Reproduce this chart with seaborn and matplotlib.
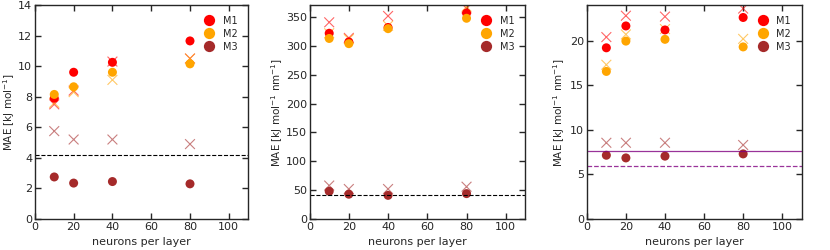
import matplotlib
matplotlib.use('Agg')
import matplotlib.pyplot as plt
import pandas as pd
import seaborn as sns

neurons = [10, 20, 40, 80]
models = ['M1', 'M2', 'M3']

# panel 1: energies
p1_test = {'M1': [7.9, 9.6, 10.25, 11.65],
           'M2': [8.15, 8.65, 9.6, 10.15],
           'M3': [2.75, 2.35, 2.45, 2.3]}
p1_cross = {'M1': [7.5, 8.4, 10.3, 10.5],
            'M2': [7.6, 8.3, 9.1, 10.5],
            'M3': [5.75, 5.2, 5.2, 4.9]}
p1_ref = [4.2]

# panel 2: forces
p2_test = {'M1': [322, 307, 332, 357],
           'M2': [313, 304, 330, 348],
           'M3': [48, 43, 41, 44]}
p2_cross = {'M1': [341, 314, 352, 365],
            'M2': [322, 312, 335, 368],
            'M3': [58, 52, 52, 56]}
p2_ref = [42]

# panel 3
p3_test = {'M1': [19.2, 21.65, 21.2, 22.6],
           'M2': [16.55, 19.95, 20.15, 19.3],
           'M3': [7.15, 6.85, 7.05, 7.3]}
p3_cross = {'M1': [20.4, 22.8, 22.7, 23.6],
            'M2': [17.3, 20.7, 21.3, 20.2],
            'M3': [8.55, 8.55, 8.55, 8.3]}
p3_ref_solid = [7.6]
p3_ref_dashed = [6.0]

palette = {'M1': 'red', 'M2': 'orange', 'M3': 'brown'}


def to_long(d):
    rows = []
    for m in models:
        for n, v in zip(neurons, d[m]):
            rows.append({'neurons': n, 'MAE': v, 'model': m})
    return pd.DataFrame(rows)


sns.set_style('ticks')
plt.rcParams['font.family'] = ['DejaVu Sans']

fig = plt.figure(figsize=(8.3, 2.5), dpi=100)
axes = [fig.add_axes([0.042, 0.124, 0.257, 0.856]),
        fig.add_axes([0.373, 0.124, 0.260, 0.856]),
        fig.add_axes([0.707, 0.124, 0.259, 0.856])]

panels = [(p1_test, p1_cross, (0, 14), range(0, 15, 2), 'MAE [kJ mol$^{-1}$]', -0.085),
          (p2_test, p2_cross, (0, 371), range(0, 351, 50), 'MAE [kJ mol$^{-1}$ nm$^{-1}$]', -0.116),
          (p3_test, p3_cross, (0, 24), range(0, 21, 5), 'MAE [kJ mol$^{-1}$ nm$^{-1}$]', -0.093)]

for ax, (test, cross, ylim, yt, ylab, lx) in zip(axes, panels):
    sns.scatterplot(data=to_long(cross), x='neurons', y='MAE', hue='model',
                    palette=palette, marker='x', s=50, linewidth=0.8,
                    alpha=0.6, legend=False, ax=ax)
    sns.scatterplot(data=to_long(test), x='neurons', y='MAE', hue='model',
                    palette=palette, marker='o', s=42, edgecolor='none',
                    ax=ax)
    ax.set_xlim(0, 110)
    ax.set_ylim(*ylim)
    ax.set_xticks(range(0, 101, 20))
    ax.set_yticks(list(yt))
    ax.set_xlabel('neurons per layer', fontsize=8)
    ax.set_ylabel(ylab, fontsize=7.5)
    ax.yaxis.set_label_coords(lx, 0.5)
    ax.tick_params(direction='in', top=True, right=True, labelsize=8,
                   length=4, width=1, pad=2)
    for s in ax.spines.values():
        s.set_linewidth(1)
    ax.legend(loc='upper right', frameon=False, fontsize=7,
              handletextpad=0.4, borderaxespad=0.7, labelspacing=0.3,
              markerscale=1.25)

axes[0].axhline(p1_ref[0], color='black', ls='--', lw=0.8)
axes[1].axhline(p2_ref[0], color='black', ls='--', lw=0.8)
axes[2].axhline(p3_ref_solid[0], color='purple', ls='-', lw=0.9, alpha=0.8)
axes[2].axhline(p3_ref_dashed[0], color='purple', ls='--', lw=0.9, alpha=0.8)

fig.savefig('out.png', dpi=100)
